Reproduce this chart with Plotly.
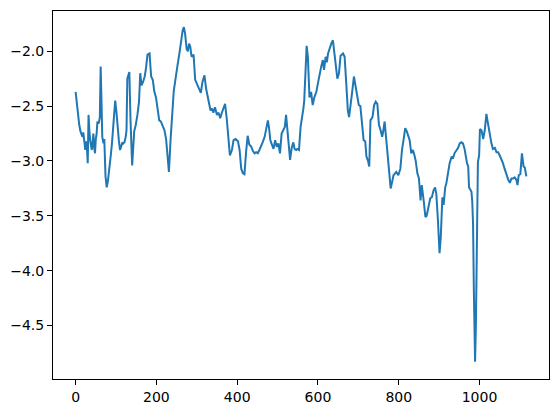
import plotly.graph_objects as go

# sample index (x) and value (y)
idx = [0,4,9,12,15,17,19,21,24,26,28,30,32,34,36,40,42,44,46,48,50,52,54,57,60,62,64,66,69,71,74,77,80,84,87,90,93,96,98,101,104,107,110,113,116,118,121,124,126,128,131,133,136,140,145,149,153,157,160,163,167,171,174,178,183,187,191,195,199,203,207,211,215,220,224,228,231,235,238,243,247,250,253,257,261,265,268,271,275,278,281,284,287,292,296,300,305,310,314,319,323,326,329,334,337,341,345,350,354,358,362,366,370,374,378,382,387,391,396,402,406,410,414,418,422,426,430,435,439,443,447,451,455,459,463,468,472,476,479,482,486,490,494,498,502,506,510,514,518,521,524,528,531,535,539,542,546,549,553,557,560,564,566,569,572,575,579,583,587,591,596,600,604,608,612,615,619,622,625,629,633,637,640,643,648,652,656,662,666,670,674,677,681,685,689,693,697,701,705,710,713,717,720,724,727,730,735,739,743,747,751,755,759,762,765,769,773,777,780,783,787,794,799,804,808,813,816,820,825,827,831,835,839,842,846,850,854,857,862,866,869,874,878,882,886,890,893,897,901,904,908,911,915,918,922,926,931,934,938,943,947,951,955,959,963,969,972,974,980,982,984,986,989,991,994,996,999,1001,1005,1009,1013,1017,1021,1025,1029,1033,1038,1042,1046,1050,1054,1058,1062,1067,1071,1075,1079,1083,1087,1091,1094,1097,1101,1105,1109,1112,1116]
vals = [-2.37,-2.52,-2.67,-2.73,-2.76,-2.78,-2.74,-2.83,-2.90,-2.82,-2.88,-3.02,-2.58,-2.72,-2.81,-2.90,-2.80,-2.75,-2.88,-2.93,-2.80,-2.75,-2.64,-2.66,-2.60,-2.14,-2.45,-2.78,-2.84,-2.80,-3.14,-3.24,-3.18,-3.01,-2.95,-2.84,-2.66,-2.51,-2.45,-2.55,-2.70,-2.81,-2.90,-2.85,-2.83,-2.84,-2.83,-2.78,-2.72,-2.25,-2.22,-2.19,-2.64,-3.04,-2.73,-2.67,-2.58,-2.46,-2.20,-2.31,-2.28,-2.23,-2.16,-2.03,-2.02,-2.23,-2.26,-2.37,-2.42,-2.54,-2.63,-2.64,-2.67,-2.72,-2.80,-2.96,-3.10,-2.81,-2.63,-2.36,-2.26,-2.17,-2.11,-2.02,-1.90,-1.81,-1.78,-1.84,-1.98,-2.00,-1.93,-1.96,-2.05,-2.03,-2.26,-2.29,-2.34,-2.38,-2.28,-2.22,-2.34,-2.40,-2.46,-2.54,-2.52,-2.56,-2.51,-2.58,-2.56,-2.61,-2.56,-2.51,-2.48,-2.61,-2.77,-2.95,-2.90,-2.81,-2.80,-2.82,-2.90,-3.07,-3.11,-3.12,-2.92,-2.77,-2.85,-2.87,-2.91,-2.93,-2.92,-2.93,-2.90,-2.87,-2.83,-2.78,-2.70,-2.63,-2.70,-2.81,-2.85,-2.89,-2.81,-2.87,-2.84,-2.93,-2.75,-2.71,-2.69,-2.58,-2.70,-2.92,-2.99,-2.88,-2.83,-2.89,-2.90,-2.89,-2.90,-2.69,-2.63,-2.52,-2.45,-2.20,-1.95,-2.05,-2.42,-2.37,-2.49,-2.42,-2.37,-2.29,-2.20,-2.14,-2.08,-2.17,-2.05,-2.10,-2.02,-1.97,-1.93,-1.90,-2.00,-2.11,-2.25,-2.20,-2.04,-2.02,-2.05,-2.29,-2.54,-2.60,-2.50,-2.36,-2.23,-2.31,-2.42,-2.49,-2.50,-2.69,-2.81,-2.82,-2.96,-3.00,-3.05,-2.63,-2.60,-2.49,-2.46,-2.48,-2.67,-2.72,-2.78,-2.72,-2.64,-2.80,-2.95,-3.14,-3.25,-3.20,-3.13,-3.10,-3.13,-3.07,-2.90,-2.78,-2.70,-2.73,-2.80,-2.81,-2.93,-2.90,-2.95,-3.00,-3.11,-3.16,-3.36,-3.22,-3.37,-3.51,-3.50,-3.39,-3.34,-3.33,-3.27,-3.24,-3.30,-3.54,-3.84,-3.70,-3.33,-3.40,-3.24,-3.20,-3.11,-3.02,-2.96,-2.98,-2.93,-2.90,-2.88,-2.84,-2.83,-2.84,-2.89,-3.02,-3.05,-3.24,-3.28,-3.37,-3.58,-4.19,-4.83,-4.50,-3.74,-3.01,-2.95,-2.71,-2.72,-2.80,-2.72,-2.57,-2.66,-2.77,-2.83,-2.89,-2.88,-2.92,-2.92,-2.95,-2.98,-3.02,-3.07,-3.14,-3.17,-3.20,-3.16,-3.16,-3.15,-3.17,-3.22,-3.13,-3.12,-2.93,-3.05,-3.06,-3.14]

y_ticks = [-2.0, -2.5, -3.0, -3.5, -4.0, -4.5]
y_tick_labels = ["\u22122.0", "\u22122.5", "\u22123.0", "\u22123.5", "\u22124.0", "\u22124.5"]
x_ticks = [0, 200, 400, 600, 800, 1000]
x_tick_labels = ["0", "200", "400", "600", "800", "1000"]

fig = go.Figure()
fig.add_trace(go.Scatter(x=idx, y=vals, mode="lines",
                         line=dict(color="#1f77b4", width=2)))

axis_common = dict(showgrid=False, zeroline=False, showline=True, mirror=True,
                   linecolor="black", linewidth=1, ticks="outside", ticklen=5,
                   tickwidth=1, tickcolor="black", automargin=False,
                   tickfont=dict(family="DejaVu Sans", size=14, color="black"))

# page body has an 8px default margin; figure sized so plot area matches reference
fig.update_layout(
    width=543, height=397,
    margin=dict(l=45, r=2, t=3, b=26, pad=0, autoexpand=False),
    paper_bgcolor="white", plot_bgcolor="white",
    showlegend=False,
    xaxis=dict(range=[-56, 1172], tickvals=x_ticks, ticktext=x_tick_labels, **axis_common),
    yaxis=dict(range=[-4.987, -1.633], tickvals=y_ticks, ticktext=y_tick_labels, **axis_common),
)

fig.write_html("out.html")
